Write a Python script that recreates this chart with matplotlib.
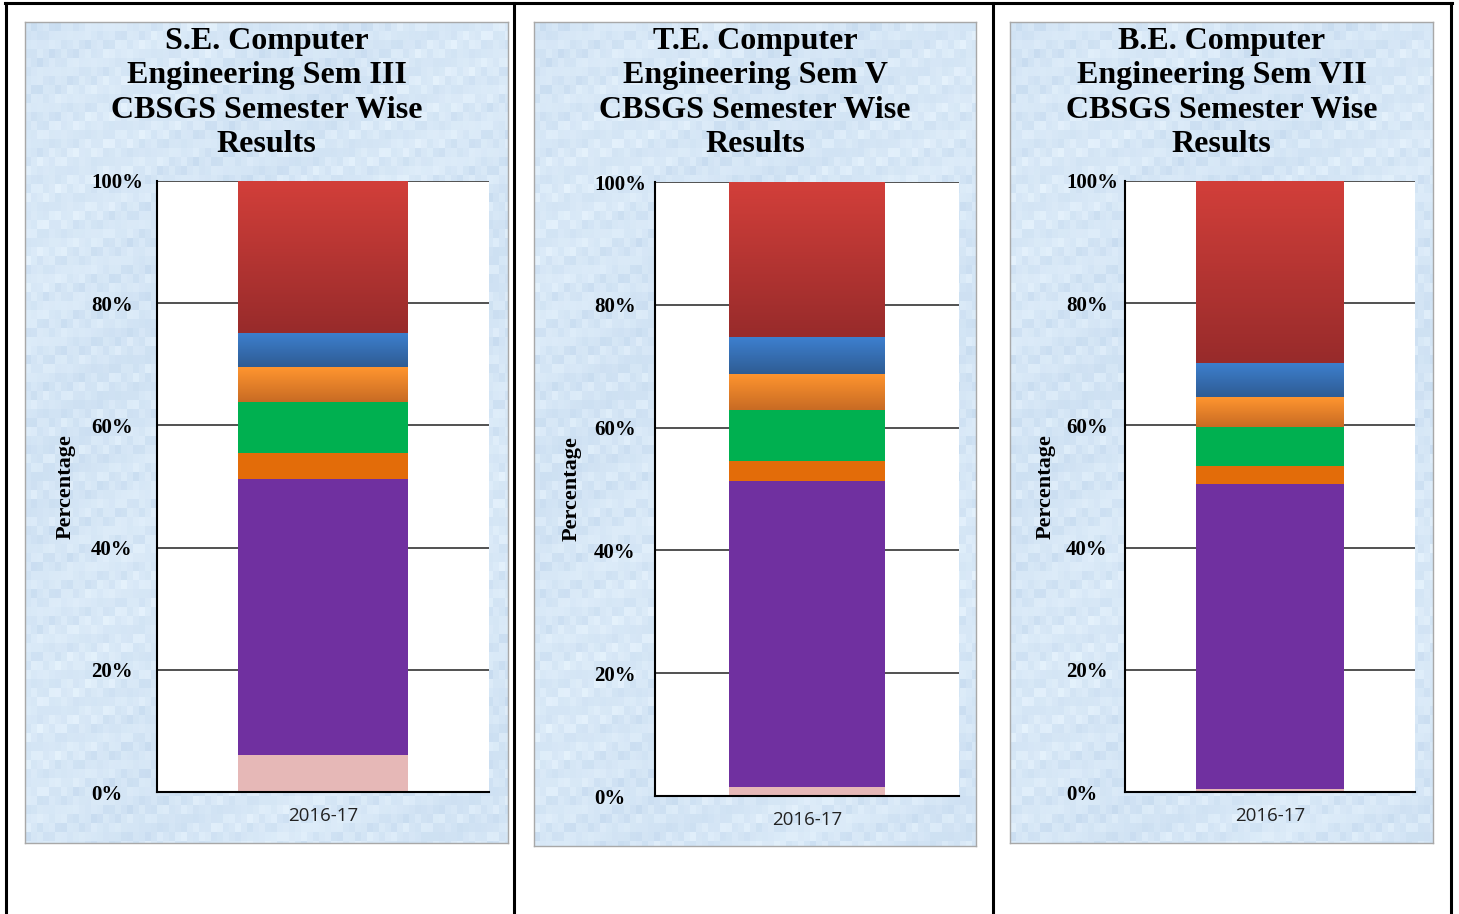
import numpy as np
import matplotlib
matplotlib.use("Agg")
import matplotlib.pyplot as plt
from matplotlib.colors import LinearSegmentedColormap
from matplotlib.lines import Line2D

W, H = 1459, 914

# Data: share of each result group per class (bottom to top), in percent
titles = [
    "S.E. Computer\nEngineering Sem III\nCBSGS Semester Wise\nResults",
    "T.E. Computer\nEngineering Sem V\nCBSGS Semester Wise\nResults",
    "B.E. Computer\nEngineering Sem VII\nCBSGS Semester Wise\nResults",
]
year = ["2016-17"]
se_values = [6.1, 45.1, 4.3, 8.3, 5.7, 5.6, 24.9]
te_values = [1.5, 49.8, 3.3, 8.3, 5.9, 6.0, 25.2]
be_values = [0.5, 49.9, 2.9, 6.4, 4.9, 5.6, 29.8]
y_ticks = [0, 20, 40, 60, 80, 100]
y_tick_labels = ["0%", "20%", "40%", "60%", "80%", "100%"]

# segment colours (top, bottom) – equal pairs are flat fills
seg_colors = [
    ("#e6b8b7", "#e6b8b7"),
    ("#7030a0", "#7030a0"),
    ("#e36c09", "#e36c09"),
    ("#00b050", "#00b050"),
    ("#ff952f", "#c86b24"),
    ("#3d80cf", "#2f5c94"),
    ("#d23f3a", "#982b2b"),
]

# layout in pixels: panel background box, plot box, y tick label left edge
panels = [
    dict(bg=(25, 22, 508, 843), plot=(157, 181, 489, 792), lab_x=91, ylab_x=64, bar_w=0.512),
    dict(bg=(534, 22, 976, 846), plot=(655, 182, 959, 796), lab_x=594, ylab_x=570, bar_w=0.513),
    dict(bg=(1010, 22, 1433, 843), plot=(1125, 181, 1415, 792), lab_x=1066, ylab_x=1044, bar_w=0.507),
]
all_values = [se_values, te_values, be_values]


def fbox(x0, y0, x1, y1):
    return [x0 / W, 1 - y1 / H, (x1 - x0) / W, (y1 - y0) / H]


def texture(w, h):
    # light blue marbled paper look (deterministic)
    yy, xx = np.mgrid[0:h, 0:w]
    bx, by = xx // 6, yy // 9
    v = (np.sin(bx * 1.7 + by * 0.3) * np.cos(by * 2.3 - bx * 0.11)
         + 0.6 * np.sin(bx * 0.37 + by * 1.9) + 0.4 * np.cos(xx * 0.02 + yy * 0.013))
    v = (v - v.min()) / (v.max() - v.min())
    light = np.array([0.90, 0.95, 0.99])
    dark = np.array([0.78, 0.86, 0.94])
    return light[None, None, :] * (1 - v[..., None]) + dark[None, None, :] * v[..., None]


fig = plt.figure(figsize=(W / 100, H / 100), dpi=100)
fig.patch.set_facecolor("white")

serif = "Liberation Serif"

for p, title, values in zip(panels, titles, all_values):
    x0, y0, x1, y1 = p["bg"]
    bg = fig.add_axes(fbox(x0, y0, x1, y1))
    bg.imshow(texture(x1 - x0, y1 - y0), aspect="auto", interpolation="bilinear")
    bg.set_xticks([])
    bg.set_yticks([])
    for s in bg.spines.values():
        s.set_color("#a8a8a8")
        s.set_linewidth(1)
    bg.text(0.5, 1 - 5 / (y1 - y0), title, transform=bg.transAxes, ha="center", va="top",
            family=serif, fontweight="bold", fontsize=23, linespacing=1.25)

    px0, py0, px1, py1 = p["plot"]
    ax = fig.add_axes(fbox(px0, py0, px1, py1))
    ax.set_facecolor("white")
    bottom = 0
    for val, (ctop, cbot) in zip(values, seg_colors):
        bars = ax.bar([0], [val], bottom=bottom, width=p["bar_w"], color=ctop, linewidth=0, zorder=3)
        if ctop != cbot:
            patch = bars[0]
            bx = patch.get_x()
            cmap = LinearSegmentedColormap.from_list("g", [cbot, ctop])
            grad = np.linspace(1, 0, 64).reshape(-1, 1)
            im = ax.imshow(grad, cmap=cmap, aspect="auto", zorder=4,
                           extent=[bx, bx + patch.get_width(), bottom, bottom + val])
            im.set_clip_path(patch)
        bottom += val
    ax.set_xlim(-0.5, 0.5)
    ax.set_ylim(0, 100)
    ax.set_yticks(y_ticks)
    ax.set_yticklabels(y_tick_labels, family=serif, fontweight="bold", fontsize=15, ha="left")
    ax.tick_params(axis="y", length=0, pad=(px0 - p["lab_x"]) * 0.72)
    ax.set_xticks([0])
    ax.set_xticklabels(year, family="Open Sans", fontsize=13.5, color="#222222")
    ax.tick_params(axis="x", length=0, pad=11)
    ax.yaxis.grid(True, color="#222222", linewidth=1.1, zorder=1)
    ax.set_axisbelow(True)
    for side in ("top", "right"):
        ax.spines[side].set_visible(False)
    ax.spines["left"].set_linewidth(1.5)
    ax.spines["bottom"].set_linewidth(1.5)
    ax.spines["bottom"].set_zorder(5)
    ax.set_ylabel("Percentage", family=serif, fontweight="bold", fontsize=16)
    ax.yaxis.set_label_coords((p["ylab_x"] + 12 - px0) / (px1 - px0), 0.5)

# table borders
for x in (6, 514, 993, 1451):
    fig.add_artist(Line2D([x / W, x / W], [0, 1 - 3 / H], color="black", linewidth=2.2,
                          transform=fig.transFigure))
fig.add_artist(Line2D([5 / W, 1452 / W], [1 - 3 / H, 1 - 3 / H], color="black", linewidth=2.2,
                      transform=fig.transFigure))

fig.savefig("out.png", dpi=100)
